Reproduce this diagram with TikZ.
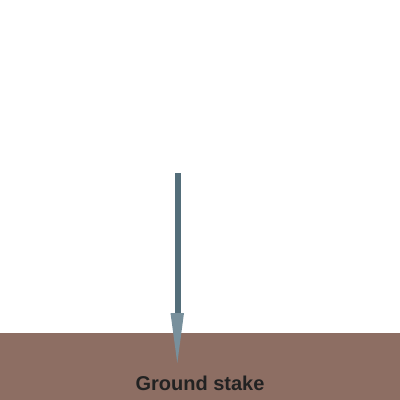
\documentclass[tikz,border=0pt]{standalone}
\usepackage{fontspec}
\setmainfont{Liberation Sans}
\definecolor{ground}{HTML}{8D6E63}
\definecolor{shaft}{HTML}{546E7A}
\definecolor{tipc}{HTML}{78909C}
\definecolor{txt}{HTML}{222222}
\begin{document}
\begin{tikzpicture}[x=1pt,y=-1pt,
  groundbox/.style={fill=ground,draw=none},
  shaftline/.style={draw=shaft,line width=6pt},
  tipshape/.style={fill=tipc,draw=none},
  labeltext/.style={font=\fontsize{20}{24}\selectfont\bfseries,text=txt}]
\useasboundingbox (0,0) rectangle (400,400);
\fill[white] (0,0) rectangle (400,400);
\fill[groundbox] (0,332.5) rectangle (400,400);
\coordinate (top) at (177.5,173);
\coordinate (base) at (177.5,314);
\draw[shaftline] (top) -- (base);
\fill[tipshape] (170.5,313) -- (184,313) -- (177.3,363) -- cycle;
\node[labeltext,anchor=base] (lbl) at (200,390) {Ground stake};
\end{tikzpicture}
\end{document}
